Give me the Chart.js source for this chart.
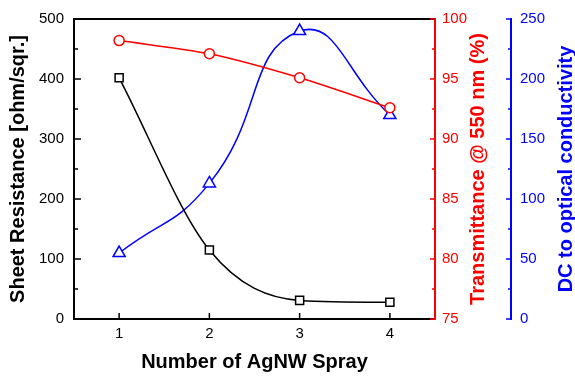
<!DOCTYPE html>
<html>
<head>
<meta charset="utf-8">
<script src="https://cdn.jsdelivr.net/npm/chart.js@4/dist/chart.umd.min.js"></script>
<style>
html, body { margin: 0; padding: 0; background: #fff; }
#wrap { width: 575px; height: 376px; }
</style>
</head>
<body>
<div id="wrap"><canvas id="chart"></canvas></div>
<script>
// ===============================
// DATA
// ===============================

const sprays = [1, 2, 3, 4];
const sheetResistance = [402, 115, 31, 28];      // ohm/sqr.
const transmittance = [98.2, 97.1, 95.1, 92.6];  // % @ 550 nm
const dcOptical = [55, 113, 240, 170];           // DC to optical conductivity
const xTicks = [1, 2, 3, 4];

const toPoints = (ys) => sprays.map((x, i) => ({ x: x, y: ys[i] }));

// ===============================
// STYLING
// ===============================

Chart.defaults.font.family = "'Liberation Sans', Arial, Helvetica, sans-serif";
Chart.defaults.color = "#000";

const RED = "#ff0000";
const BLUE = "#0000ff";

// inward tick marks (major + minor), like the original plot
const tickMarks = {
    x:  { color: "#000", major: 6, minor: 0 },
    y:  { color: "#000", major: 7, minor: 4 },
    yT: { color: RED,   major: 5, minor: 3 },
    yD: { color: BLUE,  major: 5, minor: 3 }
};

const rightTitles = {
    yT: { text: "Transmittance @ 550 nm (%)", color: RED, offset: 43 },
    yD: { text: "DC to optical conductivity", color: BLUE, offset: 55 }
};

const frameAndTicks = {
    id: "frameAndTicks",
    afterDraw(chart) {
        const ctx = chart.ctx;
        const area = chart.chartArea;
        ctx.save();

        // top frame line
        ctx.strokeStyle = "#000";
        ctx.lineWidth = 2;
        ctx.beginPath();
        ctx.moveTo(area.left, area.top);
        ctx.lineTo(area.right, area.top);
        ctx.stroke();

        Object.keys(tickMarks).forEach((id) => {
            const s = chart.scales[id];
            const t = tickMarks[id];
            const majors = s.ticks.map((k) => k.value);
            const minors = [];
            for (let i = 0; i < majors.length - 1; i++) minors.push((majors[i] + majors[i + 1]) / 2);
            ctx.strokeStyle = t.color;
            ctx.lineWidth = 1.5;
            const draw = (v, len) => {
                if (!len) return;
                const p = s.getPixelForValue(v);
                ctx.beginPath();
                if (s.isHorizontal()) {
                    ctx.moveTo(p, s.top);
                    ctx.lineTo(p, s.top - len);
                } else {
                    const x0 = s.position === "left" ? s.right : s.left;
                    const dir = s.position === "left" ? 1 : -1;
                    ctx.moveTo(x0, p);
                    ctx.lineTo(x0 + dir * len, p);
                }
                ctx.stroke();
            };
            majors.forEach((v) => draw(v, t.major));
            minors.forEach((v) => draw(v, t.minor));
        });

        // right-hand titles read bottom-to-top
        Object.keys(rightTitles).forEach((id) => {
            const s = chart.scales[id];
            const t = rightTitles[id];
            ctx.save();
            ctx.translate(s.left + t.offset, (area.top + area.bottom) / 2);
            ctx.rotate(-Math.PI / 2);
            ctx.fillStyle = t.color;
            ctx.font = "bold 20px 'Liberation Sans', Arial, sans-serif";
            ctx.textAlign = "center";
            ctx.textBaseline = "middle";
            ctx.fillText(t.text, 0, 0);
            ctx.restore();
        });

        ctx.restore();
    }
};

const noGrid = { display: false, drawTicks: false, tickLength: 0 };

// ===============================
// CHART
// ===============================

new Chart(document.getElementById("chart"), {
    type: "line",
    data: {
        datasets: [
            {
                label: "Sheet Resistance",
                data: toPoints(sheetResistance),
                yAxisID: "y",
                borderColor: "#000",
                borderWidth: 1.5,
                cubicInterpolationMode: "monotone",
                pointStyle: "rect",
                pointRadius: 5.7,
                pointBorderWidth: 1.5,
                pointBackgroundColor: "#fff",
                pointBorderColor: "#000"
            },
            {
                label: "Transmittance",
                data: toPoints(transmittance),
                yAxisID: "yT",
                borderColor: RED,
                borderWidth: 1.5,
                tension: 0.3,
                pointStyle: "circle",
                pointRadius: 5,
                pointBorderWidth: 1.5,
                pointBackgroundColor: "#fff",
                pointBorderColor: RED
            },
            {
                label: "DC to optical conductivity",
                data: toPoints(dcOptical),
                yAxisID: "yD",
                borderColor: BLUE,
                borderWidth: 1.5,
                tension: 0.5,
                pointStyle: "triangle",
                pointRadius: 7,
                pointBorderWidth: 1.5,
                pointBackgroundColor: "#fff",
                pointBorderColor: BLUE
            }
        ]
    },
    options: {
        responsive: true,
        maintainAspectRatio: false,
        animation: false,
        layout: { padding: { top: 17, left: 0, right: 0, bottom: 0 } },
        plugins: {
            legend: { display: false },
            tooltip: { enabled: false }
        },
        scales: {
            x: {
                type: "linear",
                position: "bottom",
                min: 0.5,
                max: 4.5,
                afterBuildTicks: (s) => { s.ticks = xTicks.map((v) => ({ value: v })); },
                afterFit: (s) => { s.height = 57; },
                grid: noGrid,
                border: { display: true, color: "#000", width: 2 },
                ticks: { font: { size: 15 }, color: "#000", padding: 6 },
                title: {
                    display: true,
                    text: "Number of AgNW Spray",
                    font: { size: 20, weight: "bold" },
                    color: "#000",
                    padding: { top: 0, bottom: 2 }
                }
            },
            y: {
                position: "left",
                min: 0,
                max: 500,
                afterFit: (s) => { s.width = 74; },
                grid: noGrid,
                border: { display: true, color: "#000", width: 2 },
                ticks: { stepSize: 100, font: { size: 15 }, color: "#000", padding: 10 },
                title: {
                    display: true,
                    text: "Sheet Resistance [ohm/sqr.]",
                    font: { size: 20, weight: "bold" },
                    color: "#000",
                    padding: { top: 6, bottom: 0 }
                }
            },
            yT: {
                position: "right",
                min: 75,
                max: 100,
                afterFit: (s) => { s.width = 76; },
                grid: noGrid,
                border: { display: true, color: RED, width: 2 },
                ticks: { stepSize: 5, font: { size: 15 }, color: RED, padding: 7 }
            },
            yD: {
                position: "right",
                min: 0,
                max: 250,
                afterFit: (s) => { s.width = 64; },
                grid: noGrid,
                border: { display: true, color: BLUE, width: 2 },
                ticks: { stepSize: 50, font: { size: 15 }, color: BLUE, padding: 9 }
            }
        }
    },
    plugins: [frameAndTicks]
});
</script>
</body>
</html>
